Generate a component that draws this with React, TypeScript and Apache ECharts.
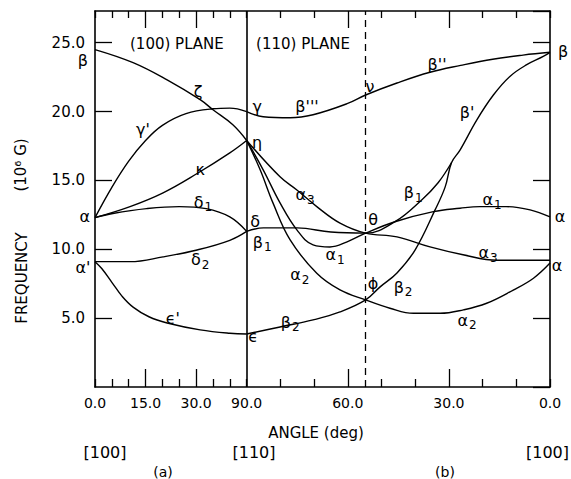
import React, { useEffect, useRef } from 'react';
import * as echarts from 'echarts';

// Panel (a): (100) plane, angle measured from [100]; the [110] end is labelled 90.0
// Panel (b): (110) plane, angle runs from 90 ([110]) down to 0 ([100])

// ---- panel (a) curves ----
const betaZetaAngles = [0, 11.3, 21.4, 31.2, 35.0, 40.9, 45];
const betaZetaValues = [24.5, 23.55, 22.3, 20.86, 20.13, 19.04, 17.9];

const gammaPrimeAngles = [0, 5, 10, 15, 20, 27, 35, 40, 45];
const gammaPrimeValues = [12.3, 14.5, 16.4, 17.9, 19.0, 19.85, 20.2, 20.25, 20.0];

const kappaAngles = [0, 10.4, 20.2, 30.3, 40, 45];
const kappaValues = [12.3, 13.1, 14.1, 15.5, 17.0, 17.9];

const delta1Angles = [0, 5.3, 15.3, 25, 33, 40, 45];
const delta1Values = [12.3, 12.6, 12.95, 13.1, 12.95, 12.35, 11.3];

const delta2Angles = [0, 10.4, 20.2, 30.3, 40, 45];
const delta2Values = [9.1, 9.1, 9.45, 9.95, 10.65, 11.3];

const epsPrimeAngles = [0, 2, 5, 8, 11.3, 16, 21.4, 31.2, 40, 45];
const epsPrimeValues = [9.1, 8.6, 7.6, 6.6, 5.8, 5.1, 4.65, 4.15, 3.9, 3.85];

// ---- panel (b) curves ----
const betaTripleAngles = [90, 85.1, 77.1, 70.3, 60.2, 54.7, 45.4, 35.6, 26.5, 17, 8, 0];
const betaTripleValues = [20.0, 19.62, 19.55, 19.77, 20.57, 21.2, 22.07, 22.85, 23.35, 23.8, 24.1, 24.3];

const beta2PrimeAngles = [90, 80.1, 70.3, 62.3, 54.7, 50.4, 45.4, 40, 34.1, 31.1, 29.2, 26.7, 21.7, 16.8, 11.9, 6.9, 2, 0];
const beta2PrimeValues = [3.85, 4.36, 4.87, 5.45, 6.32, 7.27, 8.28, 9.96, 12.86, 14.53, 16.3, 17.2, 19.4, 21.2, 22.55, 23.4, 24.0, 24.3];

const beta1Angles = [90, 85, 75, 65, 54.7, 46, 38, 33.2, 29.2];
const beta1Values = [11.3, 11.55, 11.55, 11.25, 11.17, 12.0, 13.6, 14.83, 16.3];

const alpha3Angles = [90, 80.1, 75.1, 69.1, 62.3, 54.7, 45.4, 35.6, 25.8, 15.7, 0];
const alpha3Values = [17.9, 15.26, 14.3, 13.08, 11.9, 11.17, 10.9, 10.17, 9.6, 9.2, 9.2];

const alpha1Angles = [90, 85.1, 80.1, 75.1, 70.3, 65.3, 60.2, 54.7, 46, 34.6, 26.7, 20.8, 13, 5.9, 0];
const alpha1Values = [17.9, 15.77, 13.37, 11.41, 10.32, 10.17, 10.54, 11.17, 12.0, 12.73, 12.98, 13.1, 13.1, 12.86, 12.35];

const alpha2Angles = [90, 86, 82.2, 77.1, 69.2, 62.3, 54.7, 47.5, 40.5, 32.6, 25.7, 18.8, 10.9, 4.9, 0];
const alpha2Values = [17.9, 15.77, 13.37, 10.68, 8.26, 7.05, 6.32, 5.72, 5.35, 5.35, 5.6, 6.08, 7.04, 7.9, 9.0];

// ---- axis ticks (positions on the joined angle axis: 0..45 panel a, 45..135 panel b) ----
const shortTicks = [0, 5, 10, 20, 25, 35, 40, 45, 55, 65, 85, 95, 115, 125, 135];
const longTicks = [15, 30, 75, 105];
const tickLabelPositions = [0, 15, 30, 45, 75, 105, 135];
const tickLabelTexts = ['0.0', '15.0', '30.0', '90.0', '60.0', '30.0', '0.0'];
const yTickStep = 5;
const yMax = 27.3;
const dashedAngle = 54.74; // [111] direction in panel (b)

// ---- curve labels: [symbol, subscript, axis position, value] ----
const curveLabels: [string, string, number, number][] = [
  ['β', '', -3.6, 23.7],
  ['ζ', '', 30.6, 21.45],
  ["γ'", '', 14.2, 18.7],
  ['γ', '', 48.1, 20.35],
  ['η', '', 48.1, 17.75],
  ['κ', '', 31.2, 15.8],
  ['δ', '1', 32.0, 13.4],
  ['δ', '', 47.5, 12.0],
  ['β', '1', 49.6, 10.5],
  ['α', '', -3.0, 12.35],
  ['δ', '2', 31.2, 9.25],
  ["α'", '', -3.6, 8.65],
  ["ϵ'", '', 23.1, 5.0],
  ['ϵ', '', 46.9, 3.65],
  ['β', '2', 57.9, 4.7],
  ['α', '2', 60.8, 8.15],
  ['α', '1', 71.2, 9.6],
  ['α', '3', 62.3, 13.95],
  ["β'''", '', 62.9, 20.35],
  ['ν', '', 81.6, 21.8],
  ["β''", '', 101.5, 23.4],
  ['β', '', 138.9, 24.35],
  ["β'", '', 110.4, 19.9],
  ['β', '1', 94.4, 14.1],
  ['θ', '', 82.5, 12.15],
  ['α', '1', 117.8, 13.6],
  ['α', '', 138, 12.35],
  ['α', '3', 116.6, 9.75],
  ['α', '', 137.1, 8.85],
  ['ϕ', '', 82.5, 7.55],
  ['β', '2', 91.4, 7.25],
  ['α', '2', 110.4, 4.85],
];

const panelTitles: [string, number, number][] = [
  ['(100) PLANE', 24.3, 24.93],
  ['(110) PLANE', 61.7, 24.93],
];

const FONT = 'DejaVu Sans';

const toAxis = (panel: 'a' | 'b', angle: number) => (panel === 'a' ? angle : 135 - angle);

const curves: { panel: 'a' | 'b'; angles: number[]; values: number[] }[] = [
  { panel: 'a', angles: betaZetaAngles, values: betaZetaValues },
  { panel: 'a', angles: gammaPrimeAngles, values: gammaPrimeValues },
  { panel: 'a', angles: kappaAngles, values: kappaValues },
  { panel: 'a', angles: delta1Angles, values: delta1Values },
  { panel: 'a', angles: delta2Angles, values: delta2Values },
  { panel: 'a', angles: epsPrimeAngles, values: epsPrimeValues },
  { panel: 'b', angles: betaTripleAngles, values: betaTripleValues },
  { panel: 'b', angles: beta2PrimeAngles, values: beta2PrimeValues },
  { panel: 'b', angles: beta1Angles, values: beta1Values },
  { panel: 'b', angles: alpha3Angles, values: alpha3Values },
  { panel: 'b', angles: alpha1Angles, values: alpha1Values },
  { panel: 'b', angles: alpha2Angles, values: alpha2Values },
];

export default function App() {
  const ref = useRef<HTMLDivElement>(null);
  useEffect(() => {
    if (!ref.current) return;
    const chart = echarts.init(ref.current, null, { renderer: 'svg' });
    const black = '#000';

    const lineSeries: any[] = curves.map((c, i) => ({
      type: 'line',
      xAxisIndex: 0,
      yAxisIndex: 0,
      smooth: 0.4,
      symbol: 'none',
      silent: true,
      lineStyle: { color: black, width: 1.4 },
      data: c.angles.map((a, k) => [toAxis(c.panel, a), c.values[k]]),
      ...(i === 0
        ? {
            markLine: {
              silent: true,
              symbol: 'none',
              label: { show: false },
              data: [
                { xAxis: 45, lineStyle: { color: black, type: 'solid', width: 1.6 } },
                { xAxis: toAxis('b', dashedAngle), lineStyle: { color: black, type: [7, 5], width: 1.3 } },
              ],
            },
          }
        : {}),
    }));

    const labelSeries = {
      type: 'scatter',
      xAxisIndex: 0,
      yAxisIndex: 0,
      symbolSize: 0,
      silent: true,
      clip: false,
      itemStyle: { opacity: 1 },
      label: {
        show: true,
        position: 'inside',
        color: black,
        opacity: 1,
        fontSize: 16,
        fontFamily: FONT,
        rich: {
          s: { fontSize: 12, fontFamily: FONT, color: black, padding: [10, 0, 0, 1] },
        },
      },
      data: curveLabels.map(([sym, sub, x, y]) => ({
        value: [x, y],
        label: { formatter: sub ? `${sym}{s|${sub}}` : sym },
      })),
    };

    const titleSeries = {
      type: 'scatter',
      xAxisIndex: 0,
      yAxisIndex: 0,
      symbolSize: 0,
      silent: true,
      clip: false,
      itemStyle: { opacity: 1 },
      label: { show: true, position: 'inside', color: black, opacity: 1, fontSize: 15, fontFamily: FONT },
      data: panelTitles.map(([t, x, y]) => ({ value: [x, y], label: { formatter: t } })),
    };

    const xBase = {
      type: 'value',
      min: 0,
      max: 135,
      gridIndex: 0,
      splitLine: { show: false },
    };
    const lineStyleAxis = { color: black, width: 1.6 };
    const tickStyle = { color: black, width: 1.3 };

    chart.setOption({
      animation: false,
      backgroundColor: '#fff',
      grid: { left: 95, top: 11, width: 455, height: 376, containLabel: false },
      xAxis: [
        {
          ...xBase,
          position: 'bottom',
          axisLine: { show: true, onZero: false, lineStyle: lineStyleAxis },
          axisTick: { show: true, inside: true, length: 8, customValues: shortTicks, lineStyle: tickStyle },
          axisLabel: {
            show: true,
            customValues: tickLabelPositions,
            formatter: (v: number) => {
              const i = tickLabelPositions.indexOf(v);
              return i >= 0 ? tickLabelTexts[i] : '';
            },
            color: black,
            fontSize: 14,
            fontFamily: FONT,
            margin: 9,
          },
        },
        {
          ...xBase,
          position: 'bottom',
          axisLine: { show: false, onZero: false },
          axisTick: { show: true, inside: true, length: 18, customValues: longTicks, lineStyle: tickStyle },
          axisLabel: { show: false },
        },
        {
          ...xBase,
          position: 'top',
          axisLine: { show: true, onZero: false, lineStyle: lineStyleAxis },
          axisTick: { show: true, inside: true, length: 7, customValues: shortTicks, lineStyle: tickStyle },
          axisLabel: { show: false },
        },
        {
          ...xBase,
          position: 'top',
          axisLine: { show: false, onZero: false },
          axisTick: { show: true, inside: true, length: 17, customValues: longTicks, lineStyle: tickStyle },
          axisLabel: { show: false },
        },
      ],
      yAxis: [
        {
          type: 'value',
          position: 'left',
          min: 0,
          max: yMax,
          interval: yTickStep,
          splitLine: { show: false },
          axisLine: { show: true, onZero: false, lineStyle: lineStyleAxis },
          axisTick: { show: true, inside: true, length: 17, lineStyle: tickStyle },
          axisLabel: {
            show: true,
            showMaxLabel: false,
            showMinLabel: false,
            color: black,
            fontSize: 15,
            fontFamily: FONT,
            margin: 10,
            formatter: (v: number) => (v === 0 || v % yTickStep !== 0 ? '' : v.toFixed(1)),
          },
        },
        {
          type: 'value',
          position: 'right',
          min: 0,
          max: yMax,
          interval: yTickStep,
          splitLine: { show: false },
          axisLine: { show: true, onZero: false, lineStyle: lineStyleAxis },
          axisTick: { show: true, inside: true, length: 17, lineStyle: tickStyle },
          axisLabel: { show: false },
        },
      ],
      graphic: [
        {
          type: 'text',
          x: 316,
          y: 433,
          style: { text: 'ANGLE (deg)', fontSize: 15, fontFamily: FONT, fill: black, align: 'center', verticalAlign: 'middle' },
        },
        {
          type: 'text',
          x: 105,
          y: 452,
          style: { text: '[100]', fontSize: 16, fontFamily: FONT, fill: black, align: 'center', verticalAlign: 'middle' },
        },
        {
          type: 'text',
          x: 254,
          y: 452,
          style: { text: '[110]', fontSize: 16, fontFamily: FONT, fill: black, align: 'center', verticalAlign: 'middle' },
        },
        {
          type: 'text',
          x: 569,
          y: 452,
          style: { text: '[100]', fontSize: 16, fontFamily: FONT, fill: black, align: 'right', verticalAlign: 'middle' },
        },
        {
          type: 'text',
          x: 163,
          y: 472,
          style: { text: '(a)', fontSize: 14, fontFamily: FONT, fill: black, align: 'center', verticalAlign: 'middle' },
        },
        {
          type: 'text',
          x: 445,
          y: 472,
          style: { text: '(b)', fontSize: 14, fontFamily: FONT, fill: black, align: 'center', verticalAlign: 'middle' },
        },
        {
          type: 'text',
          x: 22,
          y: 278,
          rotation: Math.PI / 2,
          style: { text: 'FREQUENCY', fontSize: 15, fontFamily: FONT, fill: black, align: 'center', verticalAlign: 'middle' },
        },
        {
          type: 'text',
          x: 21,
          y: 165,
          rotation: Math.PI / 2,
          style: { text: '(10⁶ G)', fontSize: 15, fontFamily: FONT, fill: black, align: 'center', verticalAlign: 'middle' },
        },
      ],
      series: [...lineSeries, labelSeries, titleSeries],
    });
    return () => chart.dispose();
  }, []);
  return (
    <div
      ref={ref}
      style={{ position: 'absolute', left: 0, top: 0, width: 571, height: 479, background: '#fff' }}
    />
  );
}
